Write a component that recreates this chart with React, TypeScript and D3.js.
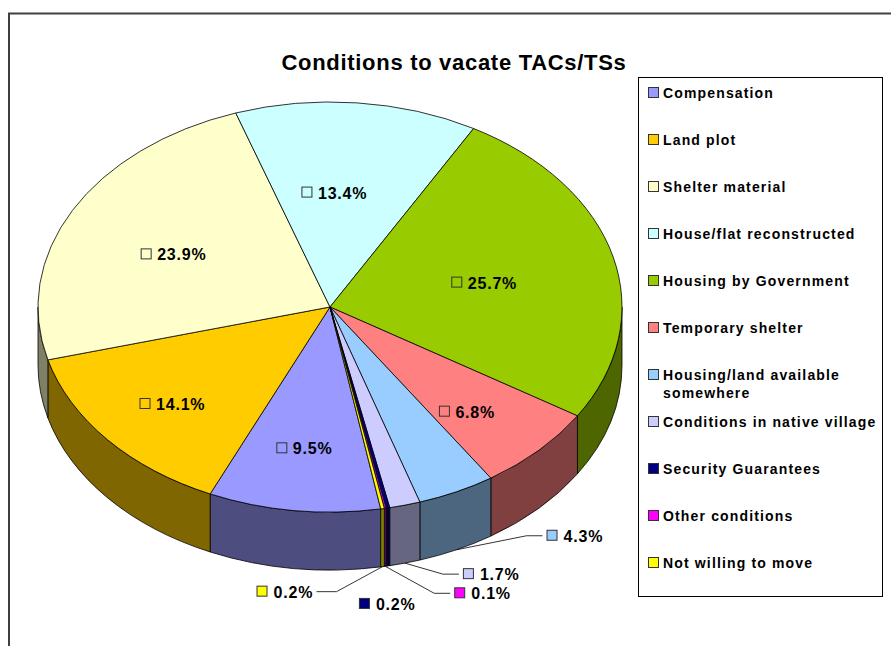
import React from 'react';
import * as d3 from 'd3';

// Conditions to vacate TACs/TSs - Excel style 3D pie

const categories = [
  'Compensation',
  'Land plot',
  'Shelter material',
  'House/flat reconstructed',
  'Housing by Government',
  'Temporary shelter',
  'Housing/land available somewhere',
  'Conditions in native village',
  'Security Guarantees',
  'Other conditions',
  'Not willing to move',
];
const values = [9.5, 14.1, 23.9, 13.4, 25.7, 6.8, 4.3, 1.7, 0.2, 0.1, 0.2];
const colors = ['#9999FF', '#FFCC00', '#FFFFCC', '#CCFFFF', '#99CC00', '#FF8080', '#99CCFF', '#CCCCFF', '#000080', '#FF00FF', '#FFFF00'];
const legendLines = [
  ['Compensation'],
  ['Land plot'],
  ['Shelter material'],
  ['House/flat reconstructed'],
  ['Housing by Government'],
  ['Temporary shelter'],
  ['Housing/land available', 'somewhere'],
  ['Conditions in native village'],
  ['Security Guarantees'],
  ['Other conditions'],
  ['Not willing to move'],
];

// small nudges for the labels placed on the slices (excel's perspective)
const insideNudge: {[k: number]: [number, number]} = {
  0: [5, -3], 1: [-5, 6], 2: [0, 6], 3: [-11, 2], 4: [-22, 7], 5: [-2, 6],
};
// label placement for the thin slices, offsets from the slice's bottom edge
const outsideLabels: {[k: number]: {dx: number, dy: number, leader: boolean}} = {
  6: {dx: 90, dy: -14, leader: true},
  7: {dx: 58, dy: 11, leader: true},
  8: {dx: -29, dy: 38, leader: false},
  9: {dx: 69, dy: 27, leader: true},
  10: {dx: -126, dy: 25, leader: true},
};

const font = "Arial, 'Liberation Sans', sans-serif";
const cx = 330, cy = 307, rx = 292, ry = 205, depth = 58;
const startAngle = 170 * Math.PI / 180;

const pt = (a: number, dy = 0): [number, number] => [cx + rx * Math.sin(a), cy - ry * Math.cos(a) + dy];

const sidePath = (a: number, b: number) => {
  let p0 = pt(a), p1 = pt(b), q1 = pt(b, depth), q0 = pt(a, depth);
  let large = b - a > Math.PI ? 1 : 0;
  return `M${p0}A${rx},${ry} 0 ${large} 1 ${p1}L${q1}A${rx},${ry} 0 ${large} 0 ${q0}Z`;
};

const half = (c: string) => {
  let r = d3.rgb(c);
  return d3.rgb(r.r * 0.5, r.g * 0.5, r.b * 0.5).formatHex();
};

const App = () => {
  let pie = d3.pie<number>().sort(null).startAngle(startAngle).endAngle(startAngle + 2 * Math.PI);
  let arcs = pie(values);
  let arc = d3.arc<d3.PieArcDatum<number>>().innerRadius(0).outerRadius(rx);
  let pct = d3.format('.1f');

  // visible front part of the rim: theta in [pi/2, 3pi/2] (+2pi)
  let fronts = [[Math.PI / 2, 3 * Math.PI / 2], [5 * Math.PI / 2, 7 * Math.PI / 2]];
  let sides: {d: string, i: number}[] = [];
  arcs.forEach((a, i) => {
    fronts.forEach(([f0, f1]) => {
      let s = Math.max(a.startAngle, f0), e = Math.min(a.endAngle, f1);
      if (e > s) sides.push({d: sidePath(s, e), i});
    });
  });

  let legendY = d3.scaleLinear().domain([0, 1]).range([93, 140]);

  return (
    <svg width={891} height={646} style={{position: 'absolute', left: 0, top: 0, background: '#fff'}} fontFamily={font}>
      <rect x={9} y={13.5} width={1000} height={800} fill="#fff" stroke="#404040" strokeWidth={2}/>
      <text x={454} y={70} textAnchor="middle" fontSize={22} fontWeight="bold" letterSpacing={0.7}>Conditions to vacate TACs/TSs</text>

      <g className="sides">
        {sides.map((s, k) => <path key={k} d={s.d} fill={half(colors[s.i])} stroke="#000" strokeWidth={0.8} strokeLinejoin="round"/>)}
      </g>
      <g className="tops" transform={`translate(${cx},${cy}) scale(1,${ry / rx})`}>
        {arcs.map((a, i) => <path key={i} d={arc(a) as string} fill={colors[i]} stroke="#000" strokeWidth={0.8}
                                  vectorEffect="non-scaling-stroke" strokeLinejoin="round"/>)}
      </g>

      <g className="labels" fontSize={16} fontWeight="bold" letterSpacing={0.8}>
        {arcs.map((a, i) => {
          let mid = (a.startAngle + a.endAngle) / 2;
          let o = outsideLabels[i];
          if (!o) {
            let f = 0.57 + 0.07 * (1 - Math.cos(mid));
            let [nx, ny] = insideNudge[i] || [0, 0];
            let x = cx + rx * f * Math.sin(mid) + nx, y = cy - ry * f * Math.cos(mid) + ny;
            return <g key={i} transform={`translate(${x - 33},${y})`}>
              <rect x={0.5} y={-5.5} width={10} height={10} fill={colors[i]} stroke="#333" strokeWidth={1}/>
              <text x={16.5} y={6}>{pct(values[i]) + '%'}</text>
            </g>;
          }
          let [ax, ay] = pt(mid, depth);
          let kx = ax + o.dx, ky = ay + o.dy;
          let leader = null;
          if (o.leader) {
            let pts = o.dx > 0
              ? [[ax, ay], [kx - 20, ky], [kx - 4, ky]]
              : [[ax, ay], [kx + 80, ky], [kx + 60, ky]];
            leader = <path d={d3.line()(pts as [number, number][]) as string} fill="none" stroke="#000" strokeWidth={0.8}/>;
          }
          return <g key={i}>
            {leader}
            <rect x={kx + 0.5} y={ky - 5.5} width={10} height={10} fill={colors[i]} stroke="#333" strokeWidth={1}/>
            <text x={kx + 17} y={ky + 6}>{pct(values[i]) + '%'}</text>
          </g>;
        })}
      </g>

      <g className="legend">
        <rect x={638.5} y={77.5} width={244} height={519} fill="#fff" stroke="#000" strokeWidth={1}/>
        {categories.map((c, i) => <g key={c} transform={`translate(648,${legendY(i)})`}>
          <rect x={0.5} y={-5.5} width={10} height={10} fill={colors[i]} stroke="#333" strokeWidth={1}/>
          <text x={15} y={5} fontSize={14} fontWeight="bold" letterSpacing={1.15}>
            {legendLines[i].map((l, j) => <tspan key={j} x={15} dy={j ? 18 : 0}>{l}</tspan>)}
          </text>
        </g>)}
      </g>
    </svg>
  );
};

export default App;
